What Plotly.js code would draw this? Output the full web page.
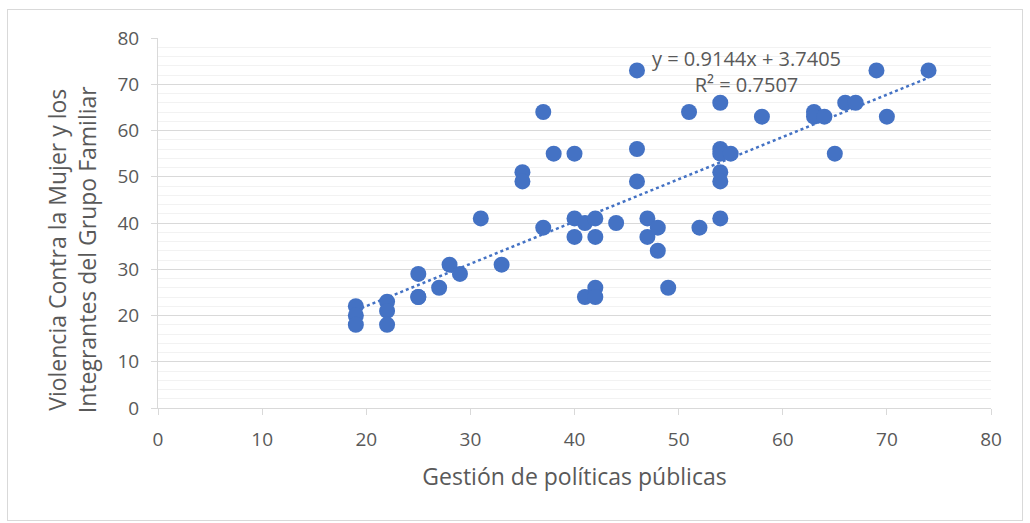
<!DOCTYPE html>
<html>
<head>
<meta charset="utf-8">
<script src="https://cdn.plot.ly/plotly-3.0.1.min.js"></script>
<style>
html,body{margin:0;padding:0;background:#fff;}
#chart{width:1030px;height:523px;}
#frame{position:absolute;left:7px;top:9px;width:1014px;height:510px;border:1px solid #D9D9D9;pointer-events:none;}
</style>
</head>
<body>
<div id="chart"></div>
<div id="frame"></div>
<script>
// Data
const gestion = [19,19,19,22,22,22,25,25,25,27,28,29,31,33,35,35,37,37,38,40,40,40,41,41,42,42,42,42,44,46,46,46,47,47,48,48,49,51,52,54,54,54,54,54,54,55,58,63,63,64,65,66,67,69,70,74];
const violencia = [22,20,18,23,21,18,29,24,24,26,31,29,41,31,51,49,64,39,55,55,41,37,40,24,41,37,26,24,40,73,56,49,41,37,39,34,26,64,39,66,56,55,51,49,41,55,63,64,63,63,55,66,66,73,63,73];
const slope = 0.9144;
const intercept = 3.7405;
const r2 = 0.7507;
const xTitle = "Gestión de políticas públicas";
const yTitle = "Violencia Contra la Mujer y los<br>Integrantes del Grupo Familiar";

const xmin = Math.min(...gestion), xmax = Math.max(...gestion);
const trendX = [xmin, xmax];
const trendY = trendX.map(v => slope * v + intercept);

const blue = "#4472C4";
const textCol = "#595959";
const font = "Open Sans, Liberation Sans, sans-serif";

const traces = [
  {x: trendX, y: trendY, type: "scatter", mode: "lines",
   line: {color: blue, width: 2.5, dash: "dot"}, hoverinfo: "skip"},
  {x: gestion, y: violencia, type: "scatter", mode: "markers",
   marker: {color: blue, size: 16, line: {width: 0}}}
];

const axisCommon = {
  range: [0, 80], dtick: 10, showline: true, linecolor: "#D9D9D9", linewidth: 1,
  gridcolor: "#D9D9D9", gridwidth: 1, zeroline: false,
  ticks: "outside", ticklen: 6, tickcolor: "#D9D9D9",
  ticklabelstandoff: 8,
  tickfont: {family: font, size: 19, color: textCol},
  fixedrange: true
};

const layout = {
  width: 1030, height: 523,
  margin: {l: 158, r: 39, t: 38, b: 115},
  paper_bgcolor: "#fff", plot_bgcolor: "#fff",
  showlegend: false,
  font: {family: font, color: textCol},
  xaxis: Object.assign({}, axisCommon, {
    gridcolor: "rgba(0,0,0,0)",
    title: {text: xTitle, font: {family: font, size: 23, color: textCol}, standoff: 18}
  }),
  yaxis: Object.assign({}, axisCommon, {
    minor: {dtick: 2, showgrid: true, gridcolor: "#F2F2F2", gridwidth: 1}
  }),
  annotations: [
    {
      x: 56.5, y: 72.8, xref: "x", yref: "y",
      text: "y = " + slope + "x + " + intercept + "<br>R² = " + r2,
      showarrow: false, align: "center",
      font: {family: font, size: 20, color: textCol}
    },
    {
      x: -0.103, y: 0.427, xref: "paper", yref: "paper",
      xanchor: "center", yanchor: "middle", textangle: -90,
      text: yTitle, showarrow: false, align: "center",
      font: {family: font, size: 23, color: textCol}
    }
  ]
};

Plotly.newPlot("chart", traces, layout, {displayModeBar: false, staticPlot: true});
</script>
</body>
</html>
